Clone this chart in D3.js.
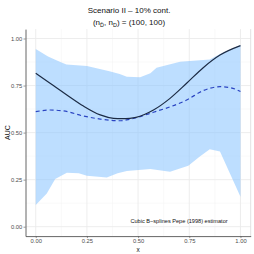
<!DOCTYPE html>
<html>
<head>
<meta charset="utf-8">
<script src="https://cdn.jsdelivr.net/npm/d3@7"></script>
<style>
html,body{margin:0;padding:0;background:#fff;}
svg{display:block;font-family:"Liberation Sans",Arial,sans-serif;}
</style>
</head>
<body>
<svg id="c" width="254" height="254"></svg>
<script>
// ---- data ----
const xTicks = [0, 0.25, 0.5, 0.75, 1];
const yTicks = [0, 0.25, 0.5, 0.75, 1];
const xTickLabels = ["0.00", "0.25", "0.50", "0.75", "1.00"];
const yTickLabels = ["0.00", "0.25", "0.50", "0.75", "1.00"];

const bandUpperX = [0, 0.06, 0.12, 0.15, 0.25, 0.36, 0.41, 0.445, 0.51, 0.56, 0.59, 0.705, 0.85, 0.9, 1.0];
const bandUpperY = [0.944, 0.905, 0.875, 0.862, 0.854, 0.826, 0.812, 0.797, 0.794, 0.815, 0.845, 0.877, 0.889, 0.918, 0.965];
const bandLowerX = [0, 0.054, 0.095, 0.152, 0.21, 0.25, 0.347, 0.40, 0.445, 0.56, 0.656, 0.745, 0.80, 0.85, 0.90, 1.0];
const bandLowerY = [0.115, 0.177, 0.253, 0.287, 0.284, 0.271, 0.262, 0.284, 0.296, 0.307, 0.292, 0.324, 0.372, 0.411, 0.399, 0.159];

const solidX = [0, 0.07, 0.152, 0.233, 0.315, 0.38, 0.42, 0.46, 0.49, 0.575, 0.656, 0.737, 0.818, 0.9, 1.0];
const solidY = [0.815, 0.762, 0.700, 0.641, 0.594, 0.576, 0.574, 0.576, 0.581, 0.620, 0.682, 0.762, 0.845, 0.912, 0.962];
const dashX = [0, 0.07, 0.136, 0.233, 0.315, 0.41, 0.46, 0.575, 0.737, 0.818, 0.9, 0.95, 1.0];
const dashY = [0.611, 0.620, 0.615, 0.588, 0.572, 0.563, 0.571, 0.608, 0.673, 0.723, 0.744, 0.739, 0.718];

const titleText = "Scenario II \u2013 10% cont.";
const annotation = "Cubic B\u2212splines Pepe (1998) estimator";

// ---- layout ----
const svg = d3.select("#c");
const x = d3.scaleLinear().domain([-0.05, 1.05]).range([25.5, 250.7]);
const y = d3.scaleLinear().domain([-0.05, 1.05]).range([236.1, 29.1]);

// grid
const minor = [0.125, 0.375, 0.625, 0.875];
const g = svg.append("g");
minor.forEach(v => {
  g.append("line").attr("x1", x(v)).attr("x2", x(v)).attr("y1", y(-0.05)).attr("y2", y(1.05))
    .attr("stroke", "#f3f3f3").attr("stroke-width", 0.5);
  g.append("line").attr("y1", y(v)).attr("y2", y(v)).attr("x1", x(-0.05)).attr("x2", x(1.05))
    .attr("stroke", "#f3f3f3").attr("stroke-width", 0.5);
});
xTicks.forEach(v => {
  g.append("line").attr("x1", x(v)).attr("x2", x(v)).attr("y1", y(-0.05)).attr("y2", y(1.05))
    .attr("stroke", "#ebebeb").attr("stroke-width", 0.9);
});
yTicks.forEach(v => {
  g.append("line").attr("y1", y(v)).attr("y2", y(v)).attr("x1", x(-0.05)).attr("x2", x(1.05))
    .attr("stroke", "#ebebeb").attr("stroke-width", 0.9);
});

// band
const upper = bandUpperX.map((v, i) => [v, bandUpperY[i]]);
const lower = bandLowerX.map((v, i) => [v, bandLowerY[i]]);
const poly = upper.concat(lower.slice().reverse());
svg.append("path")
  .attr("d", d3.line().x(d => x(d[0])).y(d => y(d[1]))(poly) + "Z")
  .attr("fill", "#87c2ff").attr("fill-opacity", 0.55);

// lines
const lineGen = d3.line().x(d => x(d[0])).y(d => y(d[1])).curve(d3.curveMonotoneX);
svg.append("path")
  .attr("d", lineGen(dashX.map((v, i) => [v, dashY[i]])))
  .attr("fill", "none").attr("stroke", "#2a44c2").attr("stroke-width", 1.2)
  .attr("stroke-dasharray", "4,3");
svg.append("path")
  .attr("d", lineGen(solidX.map((v, i) => [v, solidY[i]])))
  .attr("fill", "none").attr("stroke", "#1c2b44").attr("stroke-width", 1.2);

// right border
svg.append("line").attr("x1", x(1.05)).attr("x2", x(1.05)).attr("y1", y(1.05)).attr("y2", y(-0.05))
  .attr("stroke", "#d9d9d9").attr("stroke-width", 0.8);

// axes
const xAxis = d3.axisBottom(x).tickValues(xTicks).tickFormat((d, i) => xTickLabels[i]).tickSize(2).tickSizeOuter(0).tickPadding(0.8);
const yAxis = d3.axisLeft(y).tickValues(yTicks).tickFormat((d, i) => yTickLabels[i]).tickSize(2).tickSizeOuter(0).tickPadding(1.2);
const gx = svg.append("g").attr("transform", `translate(0,${y(-0.05)})`).call(xAxis);
const gy = svg.append("g").attr("transform", `translate(${x(-0.05)},0)`).call(yAxis);
[gx, gy].forEach(a => {
  a.select(".domain").attr("stroke", "#555").attr("stroke-width", 0.9);
  a.selectAll(".tick line").attr("stroke", "#555").attr("stroke-width", 0.6);
  a.selectAll(".tick text").attr("fill", "#4d4d4d").attr("font-size", "5.8px")
    .attr("font-family", "Liberation Sans, Arial, sans-serif");
});

// annotation
svg.append("text").attr("x", x(0.7)).attr("y", y(0.02)).attr("text-anchor", "middle")
  .attr("font-size", "5.6px").attr("fill", "#111").text(annotation);

// titles
svg.append("text").attr("x", 129).attr("y", 12.5).attr("text-anchor", "middle")
  .attr("font-size", "8px").attr("fill", "#111").text(titleText);
const sub = svg.append("text").attr("x", 129).attr("y", 25).attr("text-anchor", "middle")
  .attr("font-size", "8px").attr("fill", "#111");
sub.append("tspan").text("(n");
sub.append("tspan").attr("font-size", "5.5px").attr("dy", 1.5).text("D\u0304");
sub.append("tspan").attr("dy", -1.5).text(", n");
sub.append("tspan").attr("font-size", "5.5px").attr("dy", 1.5).text("D");
sub.append("tspan").attr("dy", -1.5).text(") = (100, 100)");

// axis titles
svg.append("text").attr("x", x(0.5)).attr("y", 251.5).attr("text-anchor", "middle")
  .attr("font-size", "6.5px").attr("fill", "#111").text("x");
svg.append("text").attr("transform", `translate(9.5,${(y(-0.05) + y(1.05)) / 2}) rotate(-90)`)
  .attr("text-anchor", "middle").attr("font-size", "7px").attr("fill", "#111").text("AUC");
</script>
</body>
</html>
